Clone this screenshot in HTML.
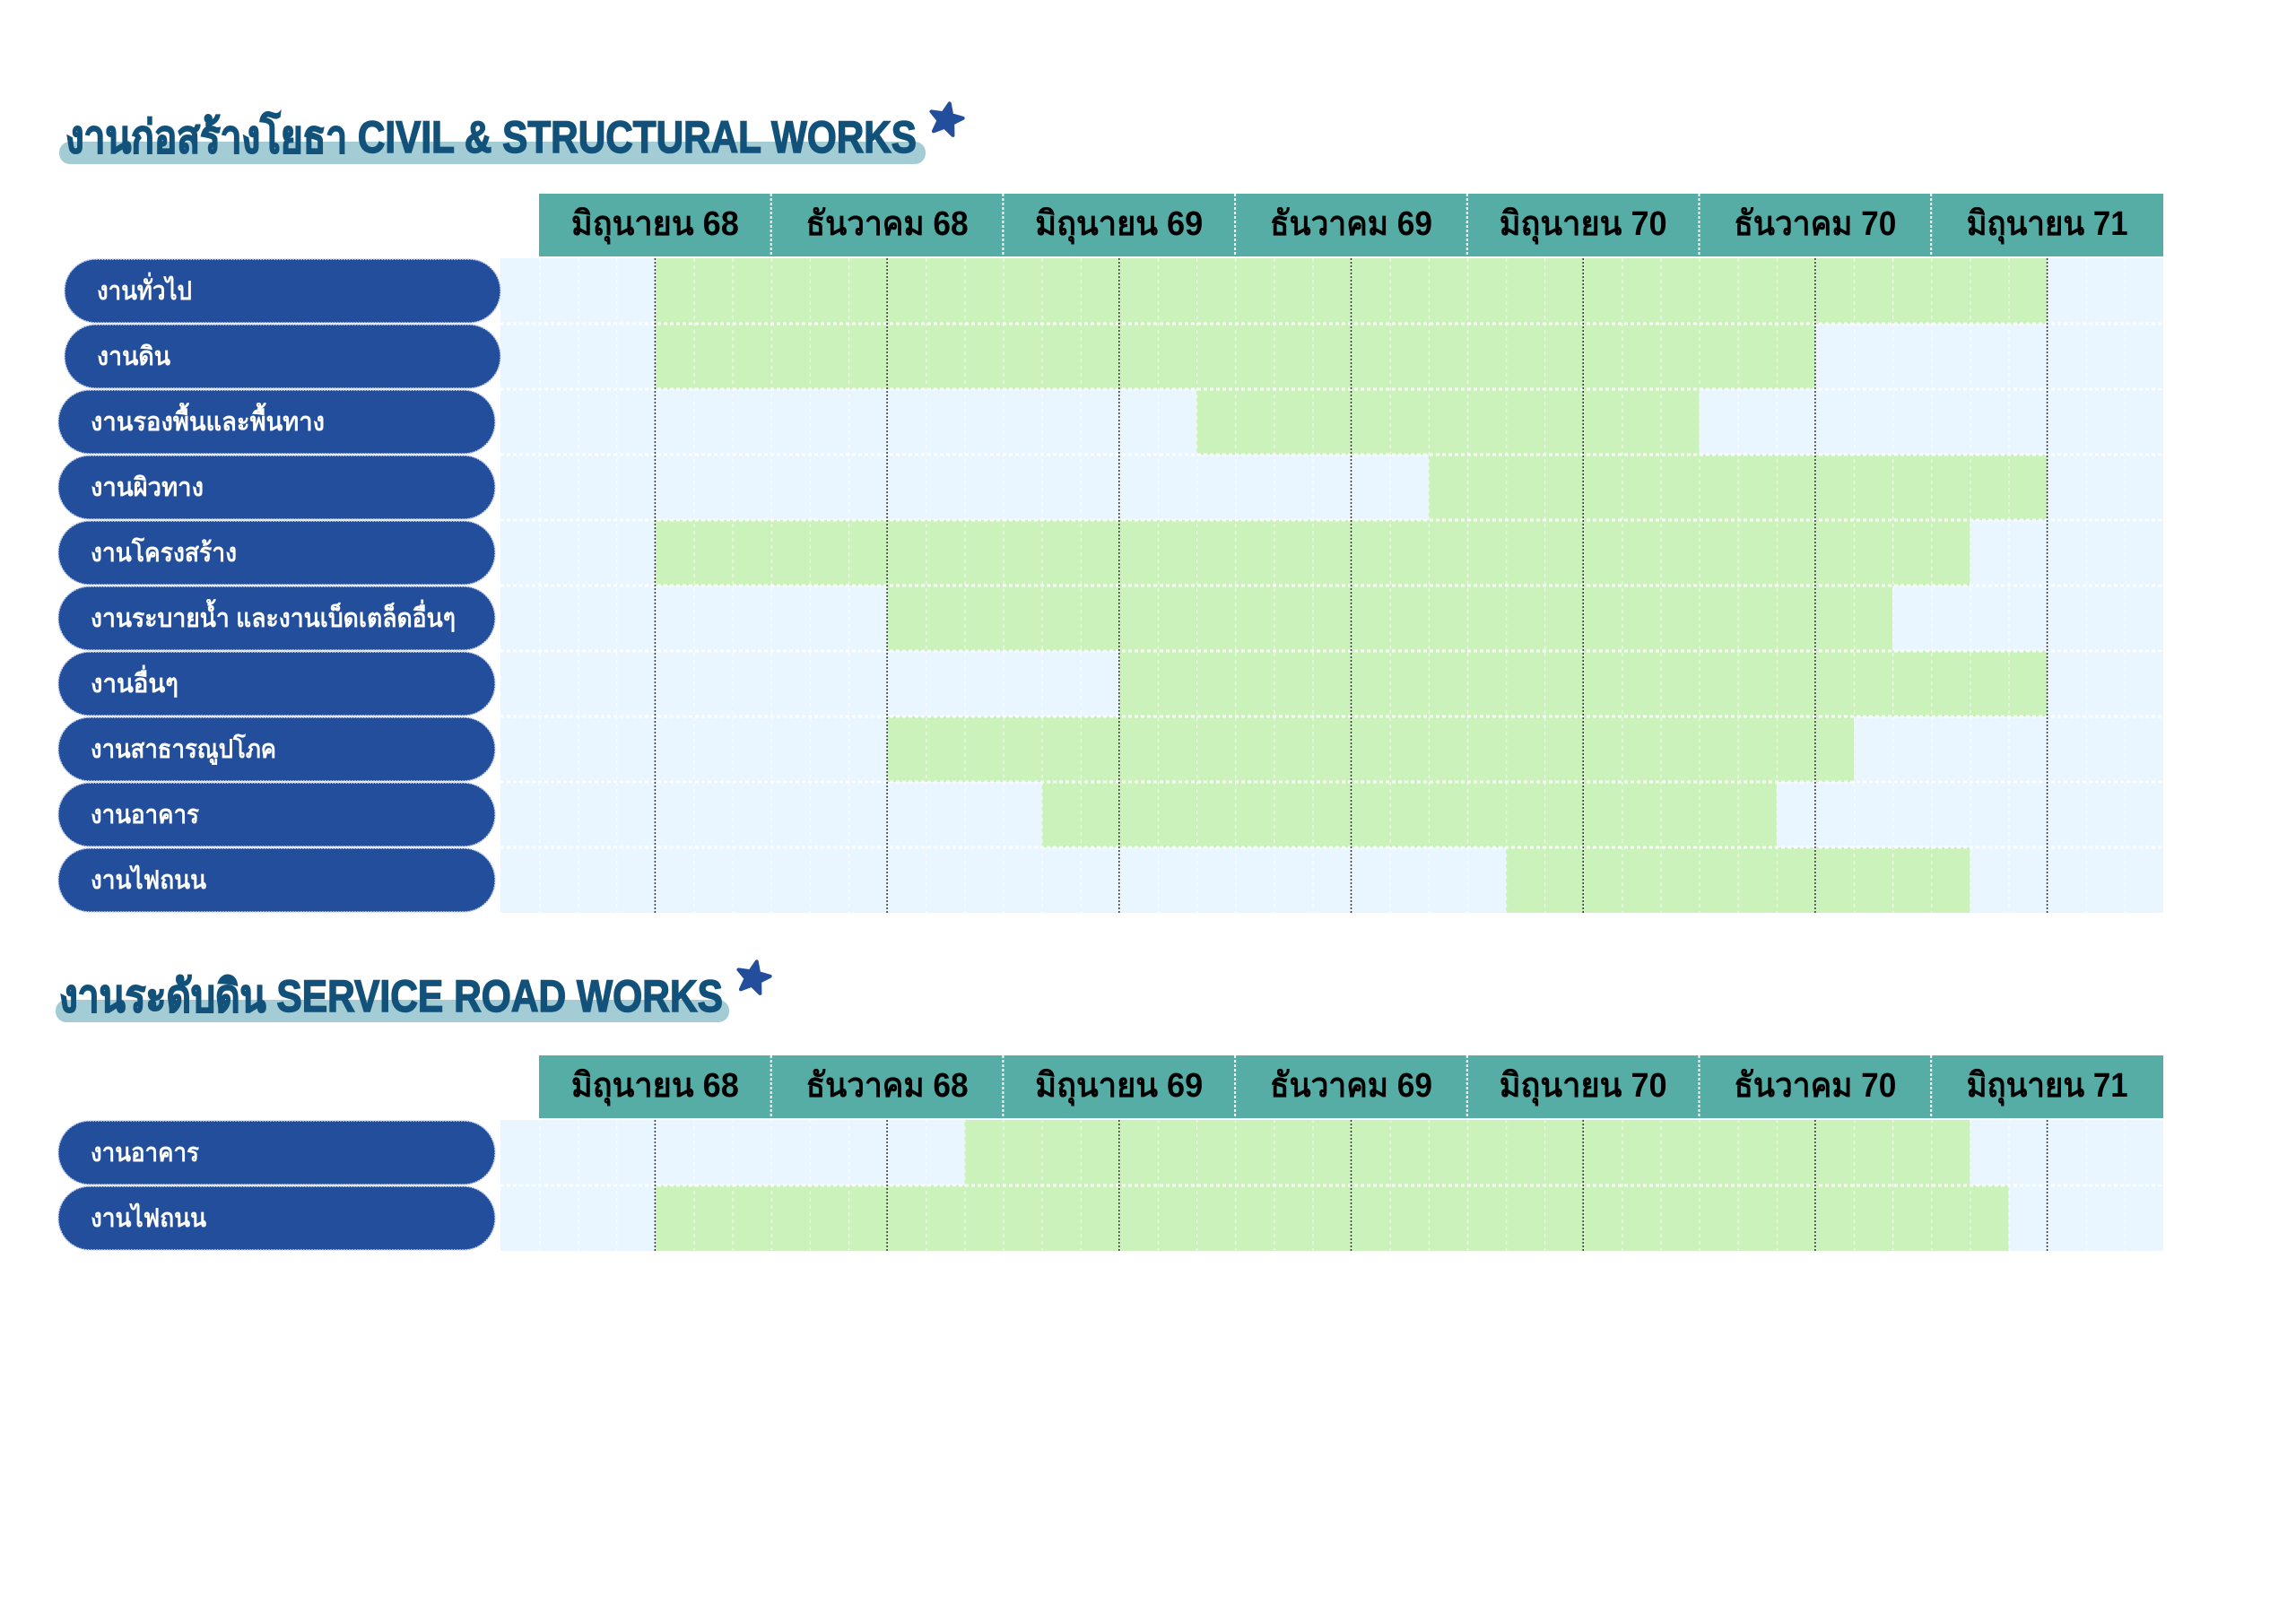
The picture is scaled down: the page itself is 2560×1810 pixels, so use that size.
<!DOCTYPE html>
<html><head><meta charset="utf-8"><style>
html,body{margin:0;padding:0;background:#fff;}
svg{display:block;}
text{font-family:"Liberation Sans","Noto Sans CJK SC",sans-serif;font-weight:bold;}
</style></head><body>
<svg width="2560" height="1810" viewBox="0 0 2560 1810" xmlns="http://www.w3.org/2000/svg">
<defs>
<pattern id="vg" x="601" y="0" width="43.1167" height="8" patternUnits="userSpaceOnUse">
<line x1="0.5" y1="0" x2="0.5" y2="4" stroke="#ffffff" stroke-width="1.5" opacity="0.6"/>
</pattern>
</defs>
<rect width="2560" height="1810" fill="#fff"/>

<!-- Title 1 -->
<rect x="66" y="158" width="966" height="25" rx="12" fill="#a3ccd5"/>
<text x="73" y="170" font-size="50" fill="#12527a" stroke="#12527a" stroke-width="1.5" textLength="949" lengthAdjust="spacingAndGlyphs">งานก่อสร้างโยธา CIVIL &amp; STRUCTURAL WORKS</text>
<polygon points="1055,115 1060,127 1073,128 1063,136 1066,149 1055,142 1044,149 1047,136 1037,128 1050,127" fill="#234e9c" stroke="#234e9c" stroke-width="4" stroke-linejoin="round" transform="rotate(12 1055 133)"/>

<!-- Header 1 -->
<g>
<rect x="601" y="216" width="1811" height="70" fill="#56ada6"/>
<g stroke="#fff" stroke-width="2" stroke-dasharray="3 2">
<line x1="859.7" y1="216" x2="859.7" y2="286"/><line x1="1118.4" y1="216" x2="1118.4" y2="286"/><line x1="1377.1" y1="216" x2="1377.1" y2="286"/><line x1="1635.8" y1="216" x2="1635.8" y2="286"/><line x1="1894.5" y1="216" x2="1894.5" y2="286"/><line x1="2153.2" y1="216" x2="2153.2" y2="286"/>
</g>
<g font-size="38" fill="#000" text-anchor="middle">
<text x="730.4" y="262" textLength="187" lengthAdjust="spacingAndGlyphs">มิถุนายน 68</text>
<text x="989.1" y="262" textLength="181" lengthAdjust="spacingAndGlyphs">ธันวาคม 68</text>
<text x="1247.8" y="262" textLength="187" lengthAdjust="spacingAndGlyphs">มิถุนายน 69</text>
<text x="1506.5" y="262" textLength="181" lengthAdjust="spacingAndGlyphs">ธันวาคม 69</text>
<text x="1765.2" y="262" textLength="187" lengthAdjust="spacingAndGlyphs">มิถุนายน 70</text>
<text x="2023.9" y="262" textLength="181" lengthAdjust="spacingAndGlyphs">ธันวาคม 70</text>
<text x="2282.6" y="262" textLength="180" lengthAdjust="spacingAndGlyphs">มิถุนายน 71</text>
</g>
</g>

<!-- Grid 1 -->
<rect x="558" y="288" width="1854" height="730" fill="#eaf6ff"/>
<g fill="#ccf2bc">
<rect x="730.4" y="288" width="1552.3" height="73"/>
<rect x="730.4" y="361" width="1293.6" height="73"/>
<rect x="1334.1" y="434" width="560.5" height="73"/>
<rect x="1592.8" y="507" width="689.9" height="73"/>
<rect x="730.4" y="580" width="1466.1" height="73"/>
<rect x="989.1" y="653" width="1121.1" height="73"/>
<rect x="1247.8" y="726" width="1034.9" height="73"/>
<rect x="989.1" y="799" width="1078" height="73"/>
<rect x="1161.6" y="872" width="819.3" height="73"/>
<rect x="1679" y="945" width="517.5" height="73"/>
</g>
<rect x="601" y="288" width="1811" height="730" fill="url(#vg)"/>
<g stroke="#ffffff" stroke-width="3" stroke-dasharray="4 3" opacity="0.9">
<line x1="558" y1="361" x2="2412" y2="361"/><line x1="558" y1="434" x2="2412" y2="434"/><line x1="558" y1="507" x2="2412" y2="507"/><line x1="558" y1="580" x2="2412" y2="580"/><line x1="558" y1="653" x2="2412" y2="653"/><line x1="558" y1="726" x2="2412" y2="726"/><line x1="558" y1="799" x2="2412" y2="799"/><line x1="558" y1="872" x2="2412" y2="872"/><line x1="558" y1="945" x2="2412" y2="945"/>
</g>
<g stroke="#333" stroke-width="1.5" stroke-dasharray="2 2">
<line x1="730.4" y1="288" x2="730.4" y2="1018"/><line x1="989.1" y1="288" x2="989.1" y2="1018"/><line x1="1247.8" y1="288" x2="1247.8" y2="1018"/><line x1="1506.5" y1="288" x2="1506.5" y2="1018"/><line x1="1765.2" y1="288" x2="1765.2" y2="1018"/><line x1="2023.9" y1="288" x2="2023.9" y2="1018"/><line x1="2282.6" y1="288" x2="2282.6" y2="1018"/>
</g>

<!-- Pills 1 -->
<g fill="#234e9c" stroke="#c9d4ea" stroke-width="1.5" stroke-dasharray="2 1">
<rect x="72" y="289" width="486" height="71" rx="35"/>
<rect x="72" y="362" width="486" height="71" rx="35"/>
<rect x="65" y="435" width="487" height="71" rx="35"/>
<rect x="65" y="508" width="487" height="71" rx="35"/>
<rect x="65" y="581" width="487" height="71" rx="35"/>
<rect x="65" y="654" width="487" height="71" rx="35"/>
<rect x="65" y="727" width="487" height="71" rx="35"/>
<rect x="65" y="800" width="487" height="71" rx="35"/>
<rect x="65" y="873" width="487" height="71" rx="35"/>
<rect x="65" y="946" width="487" height="71" rx="35"/>
</g>
<g font-size="29" fill="#fff">
<text x="108" y="334" textLength="106" lengthAdjust="spacingAndGlyphs">งานทั่วไป</text>
<text x="108" y="407" textLength="82" lengthAdjust="spacingAndGlyphs">งานดิน</text>
<text x="101" y="480" textLength="261" lengthAdjust="spacingAndGlyphs">งานรองพื้นและพื้นทาง</text>
<text x="101" y="553" textLength="126" lengthAdjust="spacingAndGlyphs">งานผิวทาง</text>
<text x="101" y="626" textLength="163" lengthAdjust="spacingAndGlyphs">งานโครงสร้าง</text>
<text x="101" y="699" textLength="407" lengthAdjust="spacingAndGlyphs">งานระบายน้ำ และงานเบ็ดเตล็ดอื่นๆ</text>
<text x="101" y="772" textLength="98" lengthAdjust="spacingAndGlyphs">งานอื่นๆ</text>
<text x="101" y="845" textLength="207" lengthAdjust="spacingAndGlyphs">งานสาธารณูปโภค</text>
<text x="101" y="918" textLength="121" lengthAdjust="spacingAndGlyphs">งานอาคาร</text>
<text x="101" y="991" textLength="129" lengthAdjust="spacingAndGlyphs">งานไฟถนน</text>
</g>

<!-- Title 2 -->
<rect x="62" y="1115" width="751" height="25" rx="12" fill="#a3ccd5"/>
<text x="66" y="1128" font-size="50" fill="#12527a" stroke="#12527a" stroke-width="1.5" textLength="740" lengthAdjust="spacingAndGlyphs">งานระดับดิน SERVICE ROAD WORKS</text>
<polygon points="840,1072 845,1084 858,1085 848,1093 851,1106 840,1099 829,1106 832,1093 822,1085 835,1084" fill="#234e9c" stroke="#234e9c" stroke-width="4" stroke-linejoin="round" transform="rotate(12 840 1090)"/>

<!-- Header 2 -->
<rect x="601" y="1177" width="1811" height="70" fill="#56ada6"/>
<g stroke="#fff" stroke-width="2" stroke-dasharray="3 2">
<line x1="859.7" y1="1177" x2="859.7" y2="1247"/><line x1="1118.4" y1="1177" x2="1118.4" y2="1247"/><line x1="1377.1" y1="1177" x2="1377.1" y2="1247"/><line x1="1635.8" y1="1177" x2="1635.8" y2="1247"/><line x1="1894.5" y1="1177" x2="1894.5" y2="1247"/><line x1="2153.2" y1="1177" x2="2153.2" y2="1247"/>
</g>
<g font-size="38" fill="#000" text-anchor="middle">
<text x="730.4" y="1223" textLength="187" lengthAdjust="spacingAndGlyphs">มิถุนายน 68</text>
<text x="989.1" y="1223" textLength="181" lengthAdjust="spacingAndGlyphs">ธันวาคม 68</text>
<text x="1247.8" y="1223" textLength="187" lengthAdjust="spacingAndGlyphs">มิถุนายน 69</text>
<text x="1506.5" y="1223" textLength="181" lengthAdjust="spacingAndGlyphs">ธันวาคม 69</text>
<text x="1765.2" y="1223" textLength="187" lengthAdjust="spacingAndGlyphs">มิถุนายน 70</text>
<text x="2023.9" y="1223" textLength="181" lengthAdjust="spacingAndGlyphs">ธันวาคม 70</text>
<text x="2282.6" y="1223" textLength="180" lengthAdjust="spacingAndGlyphs">มิถุนายน 71</text>
</g>

<!-- Grid 2 -->
<rect x="558" y="1249" width="1854" height="146" fill="#eaf6ff"/>
<g fill="#ccf2bc">
<rect x="1075.4" y="1249" width="1121.1" height="73"/>
<rect x="730.4" y="1322" width="1509.2" height="73"/>
</g>
<rect x="601" y="1249" width="1811" height="146" fill="url(#vg)"/>
<line x1="558" y1="1322" x2="2412" y2="1322" stroke="#fff" stroke-width="3" stroke-dasharray="4 3" opacity="0.9"/>
<g stroke="#333" stroke-width="1.5" stroke-dasharray="2 2">
<line x1="730.4" y1="1249" x2="730.4" y2="1395"/><line x1="989.1" y1="1249" x2="989.1" y2="1395"/><line x1="1247.8" y1="1249" x2="1247.8" y2="1395"/><line x1="1506.5" y1="1249" x2="1506.5" y2="1395"/><line x1="1765.2" y1="1249" x2="1765.2" y2="1395"/><line x1="2023.9" y1="1249" x2="2023.9" y2="1395"/><line x1="2282.6" y1="1249" x2="2282.6" y2="1395"/>
</g>
<g fill="#234e9c" stroke="#c9d4ea" stroke-width="1.5" stroke-dasharray="2 1">
<rect x="65" y="1250" width="487" height="71" rx="35"/>
<rect x="65" y="1323" width="487" height="71" rx="35"/>
</g>
<g font-size="29" fill="#fff">
<text x="101" y="1295" textLength="121" lengthAdjust="spacingAndGlyphs">งานอาคาร</text>
<text x="101" y="1368" textLength="129" lengthAdjust="spacingAndGlyphs">งานไฟถนน</text>
</g>
</svg>
</body></html>
